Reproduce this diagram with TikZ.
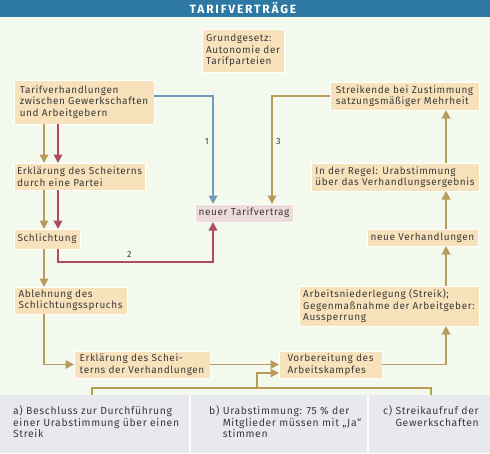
\documentclass[tikz,border=0pt]{standalone}
\usepackage{fontspec}
\setmainfont{Fira Sans}[LetterSpace=6]
\usetikzlibrary{arrows.meta, positioning}

\definecolor{titelblau}{HTML}{2E79A3}
\definecolor{grundfarbe}{HTML}{F4F9EE}
\definecolor{feldfarbe}{HTML}{F8E2BB}
\definecolor{rosa}{HTML}{EEDCDC}
\definecolor{leistenfarbe}{HTML}{E8E9EE}
\definecolor{ocker}{HTML}{B99B5C}
\definecolor{weinrot}{HTML}{B04A5E}
\definecolor{graublau}{HTML}{6E9CBA}
\definecolor{schrift}{HTML}{3C3C3C}

\tikzset{
  feld/.style={draw=white, line width=0.8pt, fill=feldfarbe, anchor=north west, outer sep=0pt,
    align=left, inner xsep=3pt, inner ysep=1pt, text=schrift, font=\fontsize{10}{11.5}\selectfont},
  leiste/.style={anchor=north west, align=left, inner sep=0pt, text=schrift, font=\fontsize{10.4}{11.2}\selectfont},
  titel/.style={text=white, font=\fontsize{12}{13}\selectfont\bfseries\addfontfeatures{LetterSpace=15}},
  zahl/.style={text=schrift, font=\fontsize{9}{10}\selectfont},
  ockerpfeil/.style={draw=ocker, line width=1.8pt, -{Triangle[length=8.5pt,width=8.5pt]}},
  rotpfeil/.style={draw=weinrot, line width=1.8pt, -{Triangle[length=8.5pt,width=8.5pt]}},
  blaupfeil/.style={draw=graublau, line width=1.8pt, -{Triangle[length=8.5pt,width=8.5pt]}},
  ockerlinie/.style={draw=ocker, line width=1.8pt}
}

\begin{document}
\begin{tikzpicture}[x=1pt, y=-1pt]

  % Hintergrund, Titel und untere Leiste
  \useasboundingbox (0,0) rectangle (490,453);
  \fill[grundfarbe] (0,0) rectangle (490,453);
  \fill[titelblau] (0,0) rectangle (490,17);
  \fill[leistenfarbe] (0,395) rectangle (490,453);
  \draw[white, line width=2pt] (190,395) -- (190,453) (368,395) -- (368,453);
  \node[titel] (titel) at (243,8.5) {TARIFVERTRÄGE};

  % Linke Spalte: Verhandlungen und Schlichtung
  \node[feld, minimum width=82pt, minimum height=43pt] (grundgesetz) at (202,29) {Grundgesetz:\\Autonomie der\\Tarifparteien};
  \node[feld, minimum width=140pt, minimum height=44pt] (verhandlungen) at (14,80) {Tarifverhandlungen\\zwischen Gewerkschaften\\und Arbeitgebern};
  \node[feld, minimum width=131pt, minimum height=27pt] (scheitern) at (14,163) {Erklärung des Scheiterns\\durch eine Partei};
  \node[feld, minimum width=66pt, minimum height=20pt] (schlichtung) at (14,229) {Schlichtung};
  \node[feld, minimum width=113pt, minimum height=27pt] (ablehnung) at (14,287) {Ablehnung des\\Schlichtungsspruchs};
  \node[feld, minimum width=136pt, minimum height=27pt] (scheiternV) at (74,351) {Erklärung des Schei-\\terns der Verhandlungen};

  % Mitte: Ergebnis
  \node[feld, fill=rosa, minimum width=98pt, minimum height=18pt] (tarifvertrag) at (195,204) {neuer Tarifvertrag};

  % Rechte Spalte: Arbeitskampf
  \node[feld, minimum width=149pt, minimum height=28pt] (streikende) at (330,82) {Streikende bei Zustimmung\\satzungsmäßiger Mehrheit};
  \node[feld, minimum width=168pt, minimum height=28pt] (urabstimmung) at (311,163) {In der Regel: Urabstimmung\\über das Verhandlungsergebnis};
  \node[feld, minimum width=111pt, minimum height=17pt] (neueverh) at (367,229) {neue Verhandlungen};
  \node[feld, minimum width=180pt, minimum height=40pt] (niederlegung) at (299,286) {Arbeitsniederlegung (Streik);\\Gegenmaßnahme der Arbeitgeber:\\Aussperrung};
  \node[feld, minimum width=103pt, minimum height=27pt] (vorbereitung) at (279,351) {Vorbereitung des\\Arbeitskampfes};

  % Untere Leiste: Schritte a) bis c)
  \node[leiste] (schritta) at (13,406) {a) Beschluss zur Durchführung\\einer Urabstimmung über einen\\Streik};
  \node[leiste] (schrittb) at (209,406) {\begin{tabular}{@{}l@{\ }l@{}}b) & Urabstimmung: 75 \% der\\ & Mitglieder müssen mit „Ja“\\ & stimmen\end{tabular}};
  \node[leiste] (schrittc) at (383,406) {\begin{tabular}{@{}l@{\ }l@{}}c) & Streikaufruf der\\ & Gewerkschaften\end{tabular}};

  % Hilfspunkte fuer die Linien
  \coordinate (xl) at (44,0);
  \coordinate (xr) at (58,0);
  \coordinate (xm) at (213,0);
  \coordinate (xd) at (272,0);
  \coordinate (xs) at (446,0);
  \coordinate (y2) at (0,262);
  \coordinate (ka) at (92,395);
  \coordinate (kb) at (257,388);
  \coordinate (kc) at (431,395);

  % Pfeile links
  \draw[ockerpfeil] (verhandlungen.south -| xl) -- (scheitern.north -| xl);
  \draw[rotpfeil] (verhandlungen.south -| xr) -- (scheitern.north -| xr);
  \draw[ockerpfeil] (scheitern.south -| xl) -- (schlichtung.north -| xl);
  \draw[rotpfeil] (scheitern.south -| xr) -- (schlichtung.north -| xr);
  \draw[ockerpfeil] (schlichtung.south -| xl) -- (ablehnung.north -| xl);
  \draw[ockerpfeil] (ablehnung.south -| xl) |- (scheiternV.west);
  \draw[ockerpfeil] (scheiternV.east) -- (vorbereitung.west |- scheiternV.east);

  % Wege zum neuen Tarifvertrag
  \draw[blaupfeil] ([yshift=6pt]verhandlungen.east) -| node[pos=0.71, left, zahl] {1} (tarifvertrag.north -| xm);
  \draw[rotpfeil] (schlichtung.south -| xr) |- node[pos=0.73, above, zahl] {2} (y2 -| xm) -- (tarifvertrag.south -| xm);
  \draw[ockerpfeil] (streikende.west) -| node[pos=0.71, right, zahl] {3} (tarifvertrag.north -| xd);

  % Pfeile rechts
  \draw[ockerpfeil] (vorbereitung.east) -| (niederlegung.south -| xs);
  \draw[ockerpfeil] (niederlegung.north -| xs) -- (neueverh.south -| xs);
  \draw[ockerpfeil] (neueverh.north -| xs) -- (urabstimmung.south -| xs);
  \draw[ockerpfeil] (urabstimmung.north -| xs) -- (streikende.south -| xs);

  % Klammer ueber der Leiste
  \draw[ockerlinie] (ka) |- (kb) -| (kc);
  \draw[ockerpfeil] (kb) |- ([yshift=-8.5pt]vorbereitung.west);

\end{tikzpicture}
\end{document}
